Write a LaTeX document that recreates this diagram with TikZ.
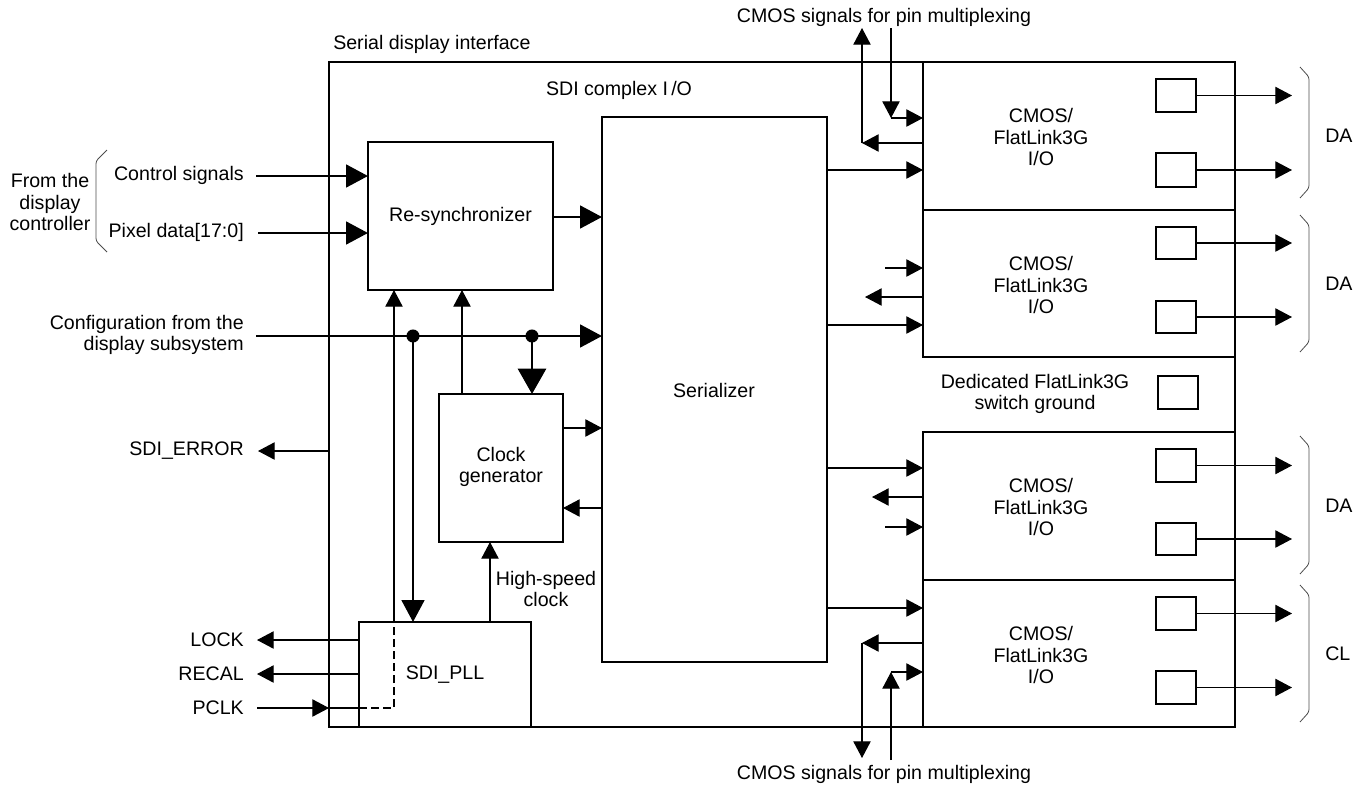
\documentclass[tikz,border=0pt]{standalone}
\usepackage{fontspec}
\setmainfont{Liberation Sans}
\usetikzlibrary{arrows.meta,fit}
\begin{document}
\begin{tikzpicture}[x=0.75pt,y=-0.75pt,
  font=\fontsize{14.7}{16.2}\selectfont,
  thinline/.style={line width=0.8pt},
  thickline/.style={line width=2.2pt},
  ta/.style={-{Triangle[length=12.5pt,width=13pt]}},
  Ta/.style={-{Triangle[length=16.5pt,width=17pt]}},
  BigA/.style={-{Triangle[length=19pt,width=21pt]}},
  outerbox/.style={draw,line width=2.2pt,inner sep=0pt,outer sep=0pt},
  iobox/.style={draw,line width=2.2pt,inner sep=0pt,outer sep=0pt},
  blk/.style={draw,line width=1.4pt,inner sep=0pt,outer sep=0pt,align=center},
  pad/.style={draw,line width=1.1pt,inner sep=0pt,outer sep=0pt},
  brk/.style={line width=0.6pt,draw=black!70,rounded corners=2pt},
  lbl/.style={inner sep=0pt,align=center},
  lblr/.style={inner sep=0pt,anchor=east,align=right},
  dashline/.style={line width=1.3pt,dash pattern=on 6pt off 3pt}
]
\useasboundingbox (0,0) rectangle (1364,786);

% ---------- boxes ----------
\node[outerbox,fit={(329,62)(1235,727)}] (sdi) {};
\node[iobox,fit={(923,62)(1235,210)}] (io1) {};
\node[iobox,fit={(923,210)(1235,357)}] (io2) {};
\node[iobox,fit={(923,432)(1235,580)}] (io3) {};
\node[iobox,fit={(923,580)(1235,727)}] (io4) {};
\node[blk,fit={(368,142)(553,290)}] (rs) {};
\node[lbl] (rst) at (rs.center) {Re-synchronizer};
\node[blk,fit={(602,117)(827,662)}] (ser) {};
\node[lbl] (sert) at (714,390) {Serializer};
\node[blk,fit={(439,394)(563,542)}] (clk) {};
\node[lbl] (clkt) at (501,467) {Clock\\generator};
\node[blk,fit={(359,622)(531,727)}] (pll) {};
\node[lbl] (pllt) at (445,675) {SDI\_PLL};

% ---------- pads ----------
\node[pad,fit={(1156,79)(1196,112)}] (p11) {};
\node[pad,fit={(1156,153)(1196,187)}] (p12) {};
\node[pad,fit={(1156,227)(1196,259)}] (p21) {};
\node[pad,fit={(1156,301)(1196,333)}] (p22) {};
\node[pad,fit={(1156,449)(1196,482)}] (p31) {};
\node[pad,fit={(1156,523)(1196,555)}] (p32) {};
\node[pad,fit={(1156,597)(1196,630)}] (p41) {};
\node[pad,fit={(1156,671)(1196,704)}] (p42) {};
\node[pad,fit={(1158,376)(1198,409)}] (pg) {};

\foreach \p in {p11,p12,p21,p22,p31,p32,p41,p42}{
  \coordinate (\p o) at ([xshift=72pt]\p.east);
  \draw[thinline,ta] (\p.east) -- (\p o);
}

% ---------- texts ----------
\node[lbl,anchor=west] (sdit) at (333,44) {Serial display interface};
\node[lbl] (cplx) at (619,90) {SDI complex I\,/O};
\node[lbl] (io1t) at (1041,137) {CMOS/\\FlatLink3G\\I/O};
\node[lbl] (io2t) at (1041,285) {CMOS/\\FlatLink3G\\I/O};
\node[lbl] (io3t) at (1041,507) {CMOS/\\FlatLink3G\\I/O};
\node[lbl] (io4t) at (1041,655) {CMOS/\\FlatLink3G\\I/O};
\node[lbl] (dedt) at (1035,394) {Dedicated FlatLink3G\\switch ground};
\node[lbl] (topt) at (884,17) {CMOS signals for pin multiplexing};
\node[lbl] (bott) at (884,774) {CMOS signals for pin multiplexing};
\node[lbl] (hsc) at (546,589) {High-speed\\clock};
\node[lbl] (fdc) at (50,202) {From the\\display\\controller};
\node[lblr] (cst) at (244,175) {Control signals};
\node[lblr] (pdt) at (244,232) {Pixel data[17:0]};
\node[lblr] (cft) at (244,335) {Configuration from the\\display subsystem};
\node[lblr] (ert) at (244,451) {SDI\_ERROR};
\node[lblr] (lkt) at (244,640) {LOCK};
\node[lblr] (rct) at (244,674) {RECAL};
\node[lblr] (pct) at (244,708) {PCLK};

% ---------- brackets ----------
\draw[brk] (107,150) -- (96,161) -- (96,241) -- (107,252);
\foreach \t/\b/\l/\y in {67/198/DA/136, 215/352/DA/284, 436/574/DA/506, 585/722/CL/654}{
  \draw[brk] (1300,\t) -- (1309,\t+10) -- (1309,\b-10) -- (1300,\b);
  \node[lbl,anchor=west] at (1325,\y) {\l};
}

% ---------- left inputs ----------
\coordinate (cs) at (256,176);
\coordinate (pd) at (258,233);
\coordinate (cf) at (256,336);
\draw[thickline,Ta] (cs) -- (cs -| rs.west);
\draw[thickline,Ta] (pd) -- (pd -| rs.west);
\coordinate (rso) at (553,217);
\draw[thickline,Ta] (rso) -- (rso -| ser.west);
\draw[thickline,Ta] (cf) -- (cf -| ser.west);
\coordinate (d1) at (413,336);
\coordinate (d2) at (532,336);
\fill (d1) circle (4.9pt);
\fill (d2) circle (4.9pt);
\draw[thickline,Ta] (d1) -- (d1 |- pll.north);
\draw[thickline,BigA] (d2) -- (d2 |- clk.north);

% ---------- thin internal ----------
\coordinate (v1) at (394,0);
\coordinate (v2) at (462,0);
\coordinate (v3) at (490,0);
\draw[thinline,ta] (v1 |- pll.north) -- (v1 |- rs.south);
\draw[thinline,ta] (v2 |- clk.north) -- (v2 |- rs.south);
\draw[thinline,ta] (v3 |- pll.north) -- (v3 |- clk.south);
\coordinate (h1) at (0,428);
\coordinate (h2) at (0,508);
\draw[thinline,ta] (clk.east |- h1) -- (ser.west |- h1);
\draw[thinline,ta] (ser.west |- h2) -- (clk.east |- h2);

% ---------- status signals ----------
\coordinate (ero) at (258,451);
\draw[thinline,ta] (sdi.west |- ero) -- (ero);
\coordinate (lko) at (257,640);
\coordinate (rco) at (257,674);
\coordinate (pci) at (257,708);
\draw[thinline,ta] (pll.west |- lko) -- (lko);
\draw[thinline,ta] (pll.west |- rco) -- (rco);
\draw[thinline,ta] (pci) -- (sdi.west |- pci);
\draw[thinline] (sdi.west |- pci) -- (pll.west |- pci);
\draw[dashline] (pll.west |- pci) -- (v1 |- pci) -- (v1 |- pll.north);

% ---------- serializer to I/O ----------
\foreach \y/\b in {170/io1, 325/io2, 468/io3, 608/io4}{
  \draw[thinline,ta] (ser.east |- 0,\y) -- (\b.west |- 0,\y);
}

% ---------- pin multiplexing, top ----------
\coordinate (pt1) at (891,28);
\coordinate (pc1) at (891,118);
\draw[thinline,ta] (pt1) -- (pc1);
\draw[thinline,ta] (pc1) -- (pc1 -| io1.west);
\coordinate (pl1) at (862,143);
\coordinate (pu1) at (862,28);
\draw[thinline,ta] (io1.west |- pl1) -- (pl1);
\draw[thinline,ta] (pl1) -- (pu1);

% ---------- box 2 / 3 side signals ----------
\coordinate (s21) at (885,268);
\coordinate (s22) at (865,297);
\draw[thinline,ta] (s21) -- (s21 -| io2.west);
\draw[thinline,ta] (io2.west |- s22) -- (s22);
\coordinate (s31) at (872,497);
\coordinate (s32) at (885,527);
\draw[thinline,ta] (io3.west |- s31) -- (s31);
\draw[thinline,ta] (s32) -- (s32 -| io3.west);

% ---------- pin multiplexing, bottom ----------
\coordinate (pl4) at (862,643);
\coordinate (pd4) at (862,758);
\draw[thinline,ta] (io4.west |- pl4) -- (pl4);
\draw[thinline,ta] (pl4) -- (pd4);
\coordinate (pb4) at (891,760);
\coordinate (pc4) at (891,672);
\draw[thinline,ta] (pb4) -- (pc4);
\draw[thinline,ta] (pc4) -- (pc4 -| io4.west);
\end{tikzpicture}
\end{document}
